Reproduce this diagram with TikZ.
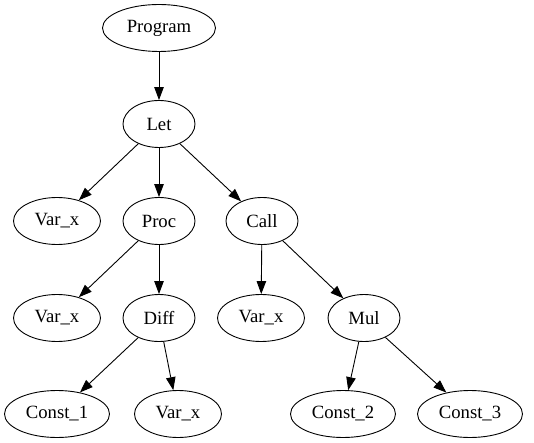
\documentclass[tikz,border=0pt]{standalone}
\usepackage{fontspec}
\setmainfont{Liberation Serif}
\usetikzlibrary{shapes.geometric,arrows.meta}
\tikzset{
ast/.style={ellipse,draw,line width=0.9pt,minimum width=72pt,minimum height=47pt,inner sep=0pt,font=\fontsize{18.7}{22}\selectfont},
varnode/.style={ast,minimum width=87pt},
constnode/.style={ast,minimum width=105pt},
edge/.style={-{Triangle[length=13pt,width=9.5pt]},line width=0.9pt}
}
\begin{document}
\begin{tikzpicture}[x=1pt,y=-1pt]
\useasboundingbox (0,0) rectangle (534,443);
\node[ast,minimum width=113pt](prog) at (159,28){Program};
\node[ast](let) at (159,124){Let};
\node[varnode](vx1) at (57,221){Var\_x};
\node[ast](proc) at (159,221){Proc};
\node[ast](call) at (262,221){Call};
\node[varnode](vx2) at (57,318){Var\_x};
\node[ast](diff) at (159,318){Diff};
\node[varnode](vx3) at (261,318){Var\_x};
\node[ast](mul) at (364,318){Mul};
\node[constnode](c1) at (57,414){Const\_1};
\node[varnode](vx4) at (178,414){Var\_x};
\node[constnode](c2) at (343,414){Const\_2};
\node[constnode](c3) at (470,414){Const\_3};
\draw[edge](prog)--(let);
\draw[edge](let)--(vx1);
\draw[edge](let)--(proc);
\draw[edge](let)--(call);
\draw[edge](proc)--(vx2);
\draw[edge](proc)--(diff);
\draw[edge](call)--(vx3);
\draw[edge](call)--(mul);
\draw[edge](diff)--(c1);
\draw[edge](diff)--(vx4);
\draw[edge](mul)--(c2);
\draw[edge](mul)--(c3);
\end{tikzpicture}
\end{document}
